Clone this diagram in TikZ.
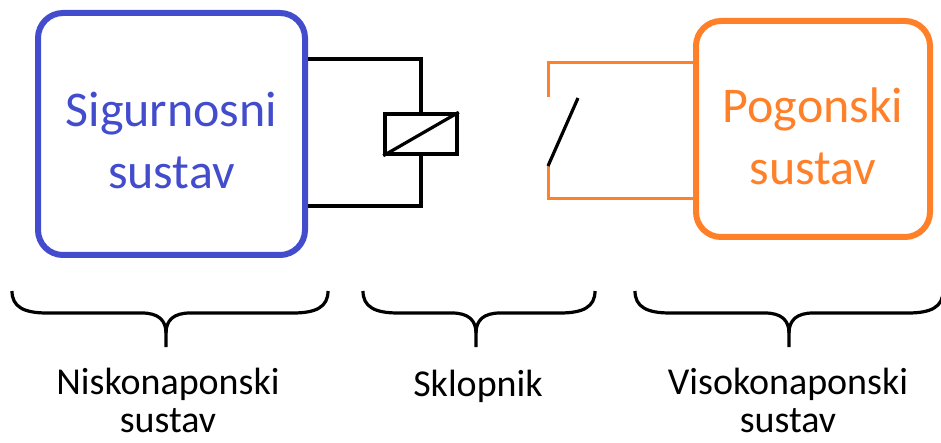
\documentclass[tikz,border=0pt]{standalone}
\usepackage{fontspec}
\setmainfont{Carlito}
\usepackage{tikz}
\usetikzlibrary{positioning}

\definecolor{sigblue}{RGB}{66,76,204}
\definecolor{pogorange}{RGB}{255,128,40}

\tikzset{
  sysbox/.style = {draw, shape = rectangle, rounded corners = 25pt, line width = 6pt},
  boxtxt/.style = {align = center, inner sep = 0pt, font = \fontsize{50}{62}\selectfont},
  wire/.style = {line width = 3.2pt, black},
  hvwire/.style = {line width = 3pt, pogorange},
  brc/.style = {line width = 3.2pt, black},
  lbl/.style = {align = center, inner sep = 0pt, anchor = base, font = \fontsize{38}{38}\selectfont}
}

\begin{document}
\begin{tikzpicture}[x = 1pt, y = -1pt]
\useasboundingbox (0,0) rectangle (941,443);

\node[sysbox, sigblue, minimum width = 267pt, minimum height = 242pt] (sig) at (171.5,134) {};
\node[boxtxt, text = sigblue] (sigtxt) at ([yshift = -6pt]sig.center) {Sigurnosni\\sustav};
\node[sysbox, pogorange, minimum width = 234pt, minimum height = 216pt] (pog) at (813,129) {};
\node[boxtxt, text = pogorange] (pogtxt) at ([yshift = -7pt]pog.center) {Pogonski\\sustav};

% relej
\node[draw, line width = 3.5pt, minimum width = 72pt, minimum height = 40pt, inner sep = 0pt] (coil) at (421,134) {};
\draw[wire] (coil.south west) -- (coil.north east);
\coordinate (ctop) at (421,59);
\coordinate (cbot) at (421,206);
\draw[wire] (sig.east |- ctop) -- (ctop) -- (coil.north);
\draw[wire] (coil.south) -- (cbot) -- (sig.east |- cbot);

% sklopka
\coordinate (stop) at (548,63);
\coordinate (sbot) at (548,199);
\coordinate (sw1) at (548,97);
\coordinate (sw2) at (548,166);
\coordinate (sw3) at (578,98);
\draw[hvwire] (pog.west |- stop) -- (stop) -- (sw1);
\draw[hvwire] (pog.west |- sbot) -- (sbot) -- (sw2);
\draw[wire] (sw2) -- (sw3);

% zagrade
\foreach \l/\m/\r in {12/166/328, 363/476/595, 635/789/943}{
  \draw[brc] (\l,291) .. controls (\l,307) and (\l+12,313) .. (\l+35,313) -- (\m-24,313) .. controls (\m-8,313) and (\m,320) .. (\m,333) -- (\m,347);
  \draw[brc] (\m,333) .. controls (\m,320) and (\m+8,313) .. (\m+24,313) -- (\r-35,313) .. controls (\r-12,313) and (\r,307) .. (\r,291);
}

\node[lbl] (nisko) at (168,432) {Niskonaponski\\sustav};
\node[lbl] (sklop) at (478,396) {Sklopnik};
\node[lbl] (visoko) at (788,432) {Visokonaponski\\sustav};
\end{tikzpicture}
\end{document}
